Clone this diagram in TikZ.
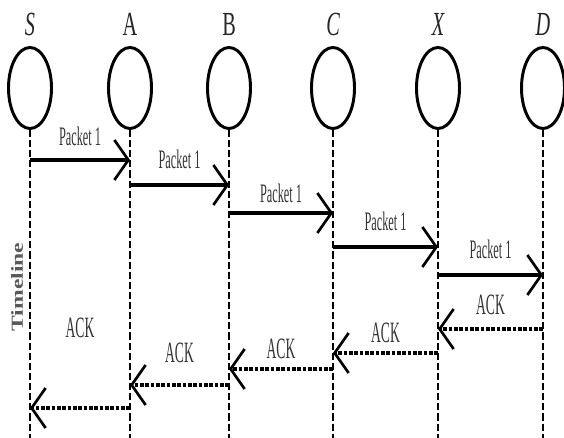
\documentclass[tikz,border=0pt]{standalone}
\usepackage{fontspec}
\newfontfamily\lblfont[FakeStretch=0.6]{Liberation Serif}
\newfontfamily\msgfont[FakeStretch=0.46]{Liberation Serif}
\newfontfamily\tlfont[FakeStretch=1.4]{Liberation Serif}
\usetikzlibrary{arrows.meta,positioning,shapes.geometric}

\begin{document}
\begin{tikzpicture}[x=0.025cm,y=-0.025cm,
 nd/.style={draw,ellipse,line width=2.1pt,minimum width=1.075cm,minimum height=2.025cm,inner sep=0pt},
 lab/.style={font=\lblfont\fontsize{24}{24}\selectfont,inner sep=0pt,black!85},
 life/.style={line width=1pt,dash pattern=on 5pt off 2.2pt},
 pkt/.style={line width=2.6pt,-{Straight Barb[length=0.35cm,width=1cm,line width=1.9pt]}},
 ack/.style={pkt,dash pattern=on 2.6pt off 1.2pt},
 msg/.style={font=\msgfont\fontsize{19}{19}\selectfont,inner sep=0pt,black!80},
 ackl/.style={msg,font=\msgfont\fontsize{21}{21}\selectfont}]
\useasboundingbox (0,0) rectangle (564,438);
% nodes
\node[nd] (S) at (30,88) {};
\node[nd] (A) at (130,88) {};
\node[nd] (B) at (229,88) {};
\node[nd] (C) at (333,88) {};
\node[nd] (X) at (438,88) {};
\node[nd] (D) at (543,88) {};
\node[lab,above=0.25cm of S] (Sl) {\itshape S};
\node[lab,above=0.25cm of A] (Al) {A};
\node[lab,above=0.25cm of B] (Bl) {B};
\node[lab,above=0.25cm of C] (Cl) {\itshape C};
\node[lab,above=0.25cm of X] (Xl) {\itshape X};
\node[lab,above=0.25cm of D] (Dl) {\itshape D};
% lifelines
\coordinate (bot) at (0,438);
\draw[life] (S.south) -- (S |- bot);
\draw[life] (A.south) -- (A |- bot);
\draw[life] (B.south) -- (B |- bot);
\draw[life] (C.south) -- (C |- bot);
\draw[life] (X.south) -- (X |- bot);
\draw[life] (D.south) -- (D |- bot);
\node[font=\tlfont\bfseries\fontsize{12}{12}\selectfont,black!65,rotate=90] (tl) at (17,287) {Timeline};
% packets
\coordinate (p1) at (0,160);\coordinate (p2) at (0,185);\coordinate (p3) at (0,213);
\coordinate (p4) at (0,247);\coordinate (p5) at (0,275);
\draw[pkt] (S |- p1) -- node[msg,above=0.3cm] (m1) {Packet 1} (A |- p1);
\draw[pkt] (A |- p2) -- node[msg,above=0.35cm] (m2) {Packet 1} (B |- p2);
\draw[pkt] (B |- p3) -- node[msg,above=0.22cm] (m3) {Packet 1} (C |- p3);
\draw[pkt] (C |- p4) -- node[msg,above=0.35cm] (m4) {Packet 1} (X |- p4);
\draw[pkt] (X |- p5) -- node[msg,above=0.35cm] (m5) {Packet 1} (D |- p5);
% acks
\coordinate (a1) at (0,329);\coordinate (a2) at (0,353);\coordinate (a3) at (0,369);
\coordinate (a4) at (0,385);\coordinate (a5) at (0,408);
\draw[ack] (D |- a1) -- node[ackl,above=0.3cm] (k1) {ACK} (X |- a1);
\draw[ack] (X |- a2) -- node[ackl,above=0.22cm] (k2) {ACK} (C |- a2);
\draw[ack] (C |- a3) -- node[ackl,above=0.2cm] (k3) {ACK} (B |- a3);
\draw[ack] (B |- a4) -- node[ackl,above=0.52cm] (k4) {ACK} (A |- a4);
\draw[ack] (A |- a5) -- node[ackl,above=1.72cm] (k5) {ACK} (S |- a5);
\end{tikzpicture}
\end{document}
